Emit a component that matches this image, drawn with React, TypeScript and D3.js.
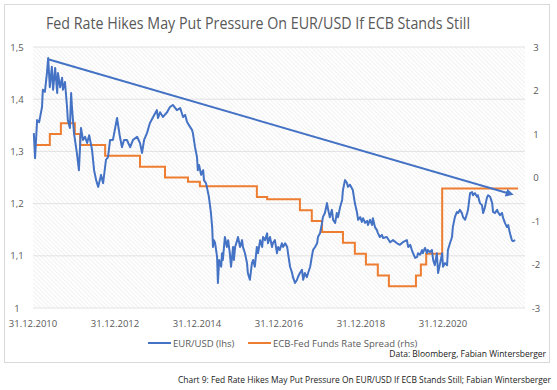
import React, { useRef, useEffect } from 'react';
import * as d3 from 'd3';

// EUR/USD (lhs): [position on the time axis in years, rate]
const eurUsd: [number, number][] = [
  [2011.02, 1.335], [2011.05, 1.287], [2011.10, 1.36], [2011.15, 1.356], [2011.22, 1.385],
  [2011.24, 1.418], [2011.29, 1.414], [2011.34, 1.45], [2011.37, 1.479], [2011.41, 1.423],
  [2011.46, 1.462], [2011.49, 1.418], [2011.54, 1.46], [2011.59, 1.412], [2011.61, 1.45],
  [2011.66, 1.423], [2011.71, 1.441], [2011.73, 1.418], [2011.78, 1.433], [2011.83, 1.385],
  [2011.85, 1.36], [2011.90, 1.345], [2011.93, 1.412], [2011.95, 1.385], [2012.00, 1.335],
  [2012.07, 1.297], [2012.12, 1.264], [2012.17, 1.345], [2012.22, 1.322], [2012.27, 1.328],
  [2012.32, 1.316], [2012.37, 1.331], [2012.44, 1.303], [2012.49, 1.264], [2012.54, 1.245],
  [2012.59, 1.232], [2012.66, 1.255], [2012.71, 1.239], [2012.78, 1.284], [2012.83, 1.289],
  [2012.88, 1.322], [2012.95, 1.322], [2013.05, 1.364], [2013.12, 1.328], [2013.17, 1.308],
  [2013.22, 1.322], [2013.29, 1.322], [2013.37, 1.308], [2013.44, 1.322], [2013.54, 1.328],
  [2013.61, 1.316], [2013.66, 1.297], [2013.71, 1.322], [2013.78, 1.335], [2013.85, 1.354],
  [2013.93, 1.366], [2014.02, 1.379], [2014.05, 1.364], [2014.10, 1.375], [2014.17, 1.366],
  [2014.27, 1.375], [2014.34, 1.385], [2014.41, 1.389], [2014.51, 1.379], [2014.59, 1.383],
  [2014.66, 1.366], [2014.71, 1.37], [2014.76, 1.356], [2014.83, 1.347], [2014.88, 1.341],
  [2014.90, 1.335], [2014.95, 1.309], [2015.00, 1.289], [2015.02, 1.264], [2015.05, 1.274],
  [2015.10, 1.255], [2015.15, 1.264], [2015.17, 1.245], [2015.22, 1.239], [2015.24, 1.232],
  [2015.29, 1.213], [2015.34, 1.182], [2015.37, 1.155], [2015.39, 1.117], [2015.41, 1.13],
  [2015.44, 1.125], [2015.49, 1.098], [2015.51, 1.048], [2015.54, 1.092], [2015.59, 1.079],
  [2015.61, 1.105], [2015.63, 1.092], [2015.68, 1.136], [2015.73, 1.117], [2015.76, 1.13],
  [2015.80, 1.105], [2015.83, 1.079], [2015.88, 1.117], [2015.90, 1.092], [2015.93, 1.117],
  [2015.98, 1.13], [2016.00, 1.136], [2016.05, 1.117], [2016.10, 1.13], [2016.12, 1.117],
  [2016.17, 1.105], [2016.22, 1.086], [2016.24, 1.067], [2016.29, 1.054], [2016.34, 1.086],
  [2016.37, 1.092], [2016.41, 1.079], [2016.46, 1.117], [2016.49, 1.105], [2016.54, 1.13],
  [2016.59, 1.117], [2016.61, 1.136], [2016.66, 1.13], [2016.71, 1.143], [2016.73, 1.124],
  [2016.78, 1.136], [2016.83, 1.117], [2016.85, 1.124], [2016.90, 1.13], [2016.95, 1.105],
  [2016.98, 1.117], [2017.02, 1.111], [2017.07, 1.124], [2017.10, 1.117], [2017.15, 1.124],
  [2017.20, 1.117], [2017.22, 1.105], [2017.27, 1.079], [2017.32, 1.067], [2017.34, 1.059],
  [2017.39, 1.048], [2017.44, 1.054], [2017.46, 1.059], [2017.51, 1.067], [2017.56, 1.073],
  [2017.59, 1.054], [2017.63, 1.067], [2017.68, 1.059], [2017.71, 1.067], [2017.76, 1.079],
  [2017.80, 1.098], [2017.83, 1.111], [2017.88, 1.117], [2017.93, 1.124], [2017.95, 1.136],
  [2018.00, 1.143], [2018.05, 1.163], [2018.07, 1.174], [2018.12, 1.182], [2018.17, 1.201],
  [2018.20, 1.188], [2018.24, 1.174], [2018.29, 1.188], [2018.32, 1.169], [2018.37, 1.163],
  [2018.41, 1.182], [2018.44, 1.174], [2018.49, 1.193], [2018.54, 1.207], [2018.56, 1.226],
  [2018.61, 1.245], [2018.66, 1.239], [2018.68, 1.232], [2018.73, 1.236], [2018.80, 1.226],
  [2018.85, 1.201], [2018.90, 1.184], [2018.93, 1.169], [2018.98, 1.174], [2019.02, 1.165],
  [2019.05, 1.172], [2019.10, 1.163], [2019.15, 1.167], [2019.17, 1.159], [2019.22, 1.169],
  [2019.27, 1.159], [2019.29, 1.172], [2019.34, 1.155], [2019.39, 1.149], [2019.41, 1.144],
  [2019.46, 1.136], [2019.51, 1.14], [2019.54, 1.134], [2019.63, 1.136], [2019.71, 1.126],
  [2019.78, 1.13], [2019.88, 1.124], [2019.95, 1.121], [2020.02, 1.126], [2020.12, 1.13],
  [2020.15, 1.117], [2020.20, 1.121], [2020.24, 1.111], [2020.27, 1.105], [2020.32, 1.096],
  [2020.37, 1.098], [2020.39, 1.105], [2020.44, 1.102], [2020.49, 1.111], [2020.51, 1.105],
  [2020.56, 1.115], [2020.61, 1.105], [2020.63, 1.111], [2020.68, 1.107], [2020.73, 1.111],
  [2020.76, 1.092], [2020.80, 1.082], [2020.85, 1.105], [2020.88, 1.067], [2020.93, 1.086],
  [2020.98, 1.105], [2021.00, 1.079], [2021.05, 1.086], [2021.10, 1.082], [2021.12, 1.111],
  [2021.17, 1.124], [2021.22, 1.136], [2021.24, 1.155], [2021.29, 1.174], [2021.34, 1.184],
  [2021.37, 1.182], [2021.41, 1.188], [2021.46, 1.182], [2021.49, 1.174], [2021.54, 1.169],
  [2021.59, 1.182], [2021.61, 1.188], [2021.66, 1.22], [2021.71, 1.222], [2021.73, 1.216],
  [2021.78, 1.22], [2021.83, 1.213], [2021.85, 1.216], [2021.90, 1.201], [2021.95, 1.197],
  [2021.98, 1.182], [2022.02, 1.192], [2022.07, 1.211], [2022.10, 1.216], [2022.15, 1.213],
  [2022.20, 1.201], [2022.22, 1.184], [2022.27, 1.182], [2022.32, 1.188], [2022.34, 1.184],
  [2022.39, 1.178], [2022.44, 1.182], [2022.46, 1.174], [2022.51, 1.163], [2022.56, 1.155],
  [2022.59, 1.159], [2022.63, 1.144], [2022.68, 1.13], [2022.71, 1.128], [2022.76, 1.13],
];

// ECB-Fed funds rate spread (rhs), step changes
const spreadYears = [
  2011.02, 2011.41, 2011.68, 2012.02, 2012.15, 2012.76, 2013.61, 2014.22, 2014.78, 2015.07,
  2016.46, 2016.71, 2017.51, 2017.80, 2018.05, 2018.56, 2018.85, 2019.12, 2019.41, 2019.68,
  2020.34, 2020.46, 2020.59, 2020.98, 2022.83,
];
const spreadValues = [
  0.75, 1.0, 1.25, 1.0, 0.75, 0.5, 0.25, 0, -0.1, -0.2,
  -0.45, -0.5, -0.75, -1.0, -1.25, -1.5, -1.75, -2.0, -2.25, -2.5,
  -2.25, -2.0, -1.75, -0.25, -0.25,
];

// downward trend line on EUR/USD
const trendYears = [2011.39, 2022.63];
const trendValues = [1.476, 1.219];

const xTicks = [2011, 2013, 2015, 2017, 2019, 2021];
const xTickLabels = ['31.12.2010', '31.12.2012', '31.12.2014', '31.12.2016', '31.12.2018', '31.12.2020'];
const leftTicks = [1, 1.1, 1.2, 1.3, 1.4, 1.5];
const rightTicks = [-3, -2, -1, 0, 1, 2, 3];

const FONT = '"Open Sans", "Liberation Sans", sans-serif';
const BLUE = '#4472C4';
const ORANGE = '#ED7D31';
const GREY = '#595959';

const App = () => {
  const svgRef = useRef<SVGSVGElement>(null);

  useEffect(() => {
    const svg = d3.select(svgRef.current);
    svg.selectAll('*').remove();

    const width = 557;
    const height = 390;
    const margin = { top: 47, right: 32, bottom: 82, left: 33 };

    const x = d3.scaleLinear().domain([2011, 2023]).range([margin.left, width - margin.right]);
    const yL = d3.scaleLinear().domain([1, 1.5]).range([height - margin.bottom, margin.top]);
    const yR = d3.scaleLinear().domain([-3, 3]).range([height - margin.bottom, margin.top]);

    const defs = svg.append('defs');
    const pat = defs.append('pattern')
      .attr('id', 'hatch')
      .attr('width', 3)
      .attr('height', 3)
      .attr('patternUnits', 'userSpaceOnUse')
      .attr('patternTransform', 'rotate(-45)');
    pat.append('rect').attr('width', 3).attr('height', 3).attr('fill', '#ffffff');
    pat.append('line')
      .attr('x1', 0).attr('y1', 0).attr('x2', 0).attr('y2', 3)
      .attr('stroke', '#e8e8e8').attr('stroke-width', 1.2);

    defs.append('marker')
      .attr('id', 'arrow')
      .attr('viewBox', '0 0 10 10')
      .attr('refX', 5).attr('refY', 5)
      .attr('markerWidth', 4).attr('markerHeight', 4)
      .attr('orient', 'auto')
      .append('path')
      .attr('d', 'M0,0 L10,5 L0,10 z')
      .attr('fill', BLUE);

    // chart frame
    svg.append('rect')
      .attr('x', 4.5).attr('y', 4.5).attr('width', 545).attr('height', 358)
      .attr('fill', '#fff').attr('stroke', '#d9d9d9');

    // plot area
    svg.append('rect')
      .attr('x', margin.left).attr('y', margin.top)
      .attr('width', width - margin.left - margin.right)
      .attr('height', height - margin.top - margin.bottom)
      .attr('fill', 'url(#hatch)');

    svg.append('g')
      .selectAll('line')
      .data(leftTicks)
      .join('line')
      .attr('x1', margin.left).attr('x2', width - margin.right)
      .attr('y1', d => yL(d)).attr('y2', d => yL(d))
      .attr('stroke', '#dcdcdc').attr('stroke-width', 0.8);

    // title
    svg.append('text')
      .attr('x', 46).attr('y', 29)
      .attr('textLength', 424).attr('lengthAdjust', 'spacingAndGlyphs')
      .attr('font-family', FONT).attr('font-size', 16.5).attr('fill', GREY)
      .text('Fed Rate Hikes May Put Pressure On EUR/USD If ECB Stands Still');

    // left axis labels
    svg.append('g')
      .selectAll('text')
      .data(leftTicks)
      .join('text')
      .attr('x', 17).attr('y', d => yL(d) + 3.5)
      .attr('text-anchor', 'middle')
      .attr('font-family', FONT).attr('font-size', 9.5).attr('fill', GREY)
      .text(d => String(d).replace('.', ','));

    // right axis labels
    svg.append('g')
      .selectAll('text')
      .data(rightTicks)
      .join('text')
      .attr('x', 536).attr('y', d => yR(d) + 3.5)
      .attr('text-anchor', 'middle')
      .attr('font-family', FONT).attr('font-size', 9.5).attr('fill', GREY)
      .text(d => String(d));

    // x axis labels
    svg.append('g')
      .selectAll('text')
      .data(xTicks)
      .join('text')
      .attr('x', d => x(d)).attr('y', 327)
      .attr('text-anchor', 'middle')
      .attr('font-family', FONT).attr('font-size', 9.5).attr('fill', GREY)
      .text((d, i) => xTickLabels[i]);

    // spread (rhs)
    const spreadLine = d3.line<number>()
      .x((d, i) => x(spreadYears[i]))
      .y(d => yR(d))
      .curve(d3.curveStepAfter);
    svg.append('path')
      .attr('d', spreadLine(spreadValues))
      .attr('fill', 'none').attr('stroke', ORANGE).attr('stroke-width', 2);

    // EUR/USD (lhs)
    const eurLine = d3.line<[number, number]>()
      .x(d => x(d[0]))
      .y(d => yL(d[1]));
    svg.append('path')
      .attr('d', eurLine(eurUsd))
      .attr('fill', 'none').attr('stroke', BLUE).attr('stroke-width', 2)
      .attr('stroke-linejoin', 'round');

    // trend line with arrow
    svg.append('line')
      .attr('x1', x(trendYears[0])).attr('y1', yL(trendValues[0]))
      .attr('x2', x(trendYears[1])).attr('y2', yL(trendValues[1]))
      .attr('stroke', BLUE).attr('stroke-width', 2)
      .attr('marker-end', 'url(#arrow)');

    // legend
    const legend = [
      { label: 'EUR/USD (lhs)', color: BLUE, x: 148 },
      { label: 'ECB-Fed Funds Rate Spread (rhs)', color: ORANGE, x: 248 },
    ];
    const lg = svg.append('g').selectAll('g').data(legend).join('g');
    lg.append('line')
      .attr('x1', d => d.x).attr('x2', d => d.x + 23)
      .attr('y1', 343).attr('y2', 343)
      .attr('stroke', d => d.color).attr('stroke-width', 2);
    lg.append('text')
      .attr('x', d => d.x + 25).attr('y', 346.5)
      .attr('font-family', FONT).attr('font-size', 9.5).attr('fill', GREY)
      .text(d => d.label);

    svg.append('text')
      .attr('x', 546).attr('y', 357)
      .attr('text-anchor', 'end')
      .attr('font-family', FONT).attr('font-size', 8.5).attr('fill', '#1a1a1a')
      .text('Data: Bloomberg, Fabian Wintersberger');

    svg.append('text')
      .attr('x', 178).attr('y', 383)
      .attr('textLength', 373).attr('lengthAdjust', 'spacingAndGlyphs')
      .attr('font-family', FONT).attr('font-size', 8.5).attr('fill', '#1a1a1a')
      .text('Chart 9: Fed Rate Hikes May Put Pressure On EUR/USD If ECB Stands Still; Fabian Wintersberger');
  }, []);

  return (
    <svg
      ref={svgRef}
      width={557}
      height={390}
      style={{ position: 'absolute', left: 0, top: 0, background: '#fff' }}
    />
  );
};

export default App;
